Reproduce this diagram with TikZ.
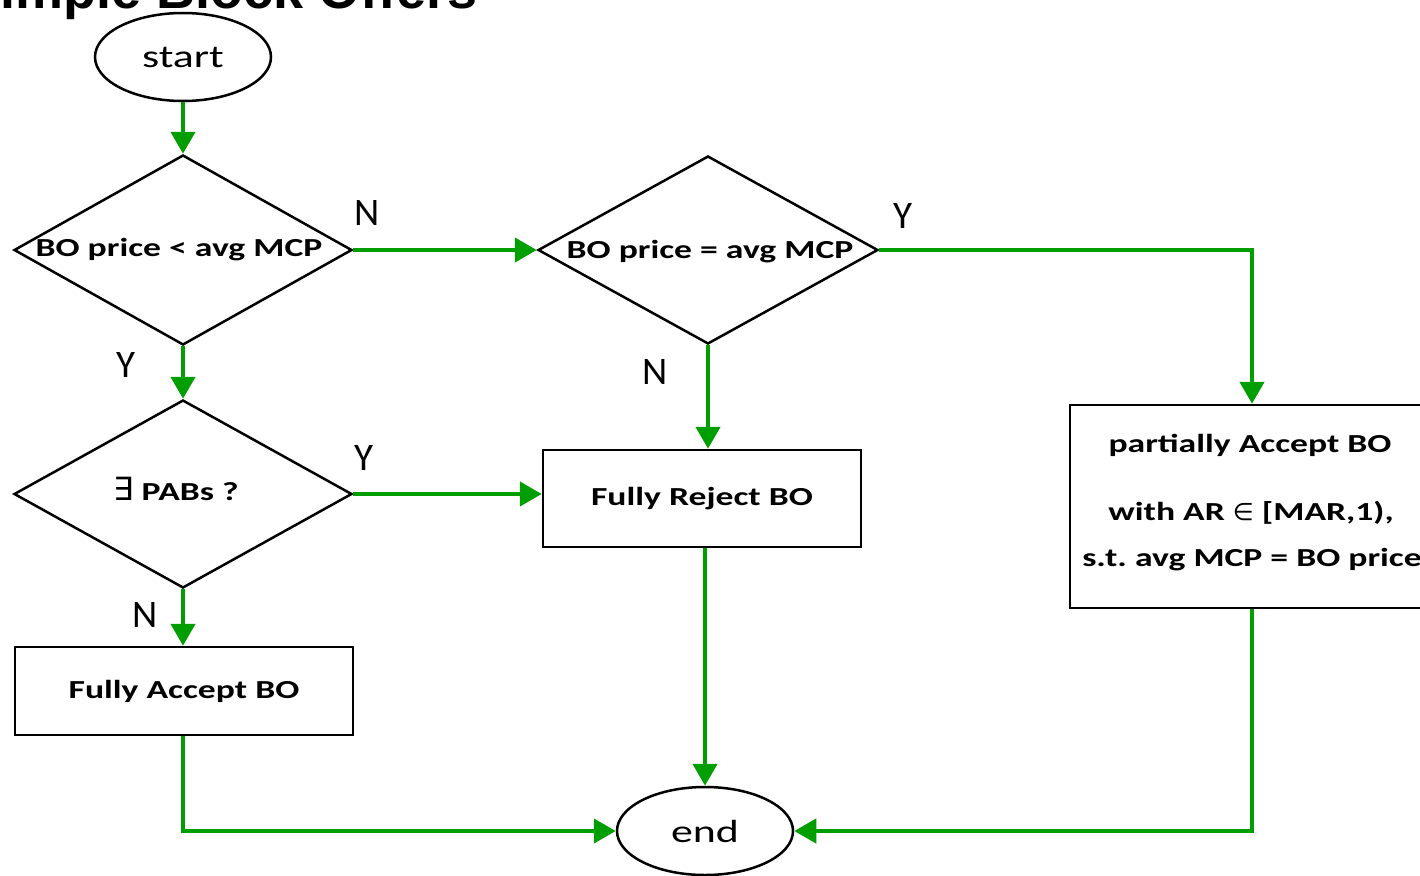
\documentclass[tikz,border=0pt]{standalone}
\usepackage{fontspec}
\setmainfont{Carlito}
\newfontfamily\bx{Carlito}[FakeStretch=1.37]
\newfontfamily\ttl{Liberation Sans}
\newfontfamily\sym{DejaVu Sans}
\usetikzlibrary{shapes.geometric,arrows.meta}
\definecolor{fg}{RGB}{0,158,0}
\frenchspacing
\begin{document}
\begin{tikzpicture}[x=1pt,y=-1pt,
  shp/.style={draw=black, line width=2.5pt, fill=white, inner sep=0pt},
  term/.style={shp, ellipse, minimum width=176pt, minimum height=88pt, font=\bx\fontsize{32}{38}\selectfont},
  dec/.style={shp, diamond},
  proc/.style={shp, rectangle, font=\bx\bfseries\fontsize{26}{31}\selectfont},
  dtext/.style={font=\bx\bfseries\fontsize{26}{31}\selectfont, inner sep=0pt},
  lbl/.style={font=\fontsize{39}{44}\selectfont, inner sep=0pt},
  flow/.style={draw=fg, line width=4.5pt, -{Triangle[length=22pt,width=24pt]}}]
\useasboundingbox (0,0) rectangle (1420,875);
\clip (0,0) rectangle (1420,875);
\node[anchor=base east, font=\ttl\bfseries\fontsize{54}{60}\selectfont, inner sep=0pt] (title) at (478,9) {Simple Block Offers};
% nodes
\node[term] (start) at (183,57) {start};
\node[dec, minimum width=338pt, minimum height=190pt] (d1) at (183,250) {};
\node[dtext] (t1) at (179,250) {BO price < avg MCP};
\node[dec, minimum width=340pt, minimum height=188pt] (d2) at (708,250) {};
\node[dtext] (t2) at (710,252) {BO price = avg MCP};
\node[dec, minimum width=338pt, minimum height=188pt] (d3) at (183,494) {};
\node[dtext] (t3) at (176,489) {{\sym\mdseries\fontsize{32}{31}\selectfont ∃} PABs ?};
\node[proc, minimum width=318pt, minimum height=97pt] (rej) at (702,498.5) {Fully Reject BO};
\node[proc, minimum width=364pt, minimum height=203pt] (part) at (1252,506.5) {};
\node[dtext] (p1) at (1250,445) {partially Accept BO};
\node[dtext] (p2) at (1251,513) {with AR {\sym\mdseries\fontsize{24}{31}\selectfont ∈} [MAR,1),};
\node[dtext] (p3) at (1252,560) {s.t. avg MCP = BO price};
\node[proc, minimum width=338pt, minimum height=88pt] (acc) at (184,691) {Fully Accept BO};
\node[term] (end) at (705,831) {end};
% connectors
\draw[flow] (start.south) -- (d1.north);
\draw[flow] (d1.east) -- (d2.west);
\draw[flow] (d2.east) -| (part.north);
\draw[flow] (d2.south) -- (d2.south |- rej.north);
\draw[flow] (d1.south) -- (d3.north);
\draw[flow] (d3.east) -- (d3.east -| rej.west);
\draw[flow] (d3.south) -- (d3.south |- acc.north);
\draw[flow] (d3.south |- acc.south) |- (end.west);
\draw[flow] (end.north |- rej.south) -- (end.north);
\draw[flow] (part.south) |- (end.east);
% labels
\node[lbl] (lN1) at (367,213) {N};
\node[lbl] (lY1) at (903,216) {Y};
\node[lbl] (lN2) at (655,372) {N};
\node[lbl] (lY2) at (126,365) {Y};
\node[lbl] (lY3) at (364,458) {Y};
\node[lbl] (lN3) at (145,615) {N};
\end{tikzpicture}
\end{document}
